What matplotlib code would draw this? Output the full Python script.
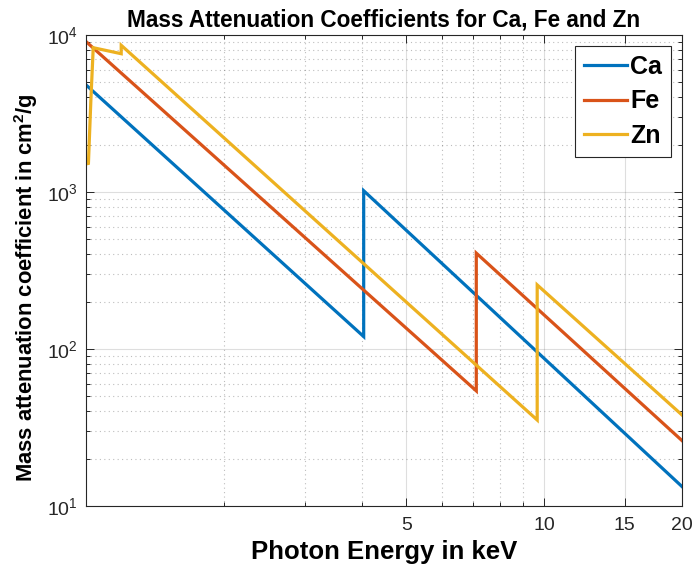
import matplotlib
matplotlib.use("Agg")
import matplotlib.pyplot as plt
from matplotlib.ticker import FixedLocator, LogLocator, NullFormatter, FixedFormatter

plt.rcParams['font.family'] = ['Liberation Sans', 'DejaVu Sans']
plt.rcParams['mathtext.fontset'] = 'custom'
plt.rcParams['mathtext.rm'] = 'Liberation Sans'
plt.rcParams['mathtext.bf'] = 'Liberation Sans:bold'

# Data (energy in keV, mass attenuation in cm^2/g)
ca_energy = [1.0, 4.038, 4.038, 20.0]
ca_mu = [4810, 120, 1019, 13.3]

fe_energy = [1.0, 7.112, 7.112, 20.0]
fe_mu = [9085, 54.1, 408, 26.1]

zn_energy = [1.0, 1.012, 1.025, 1.037, 1.1936, 1.1936, 9.659, 9.659, 20.0]
zn_mu = [1590, 1495, 3900, 8300, 7600, 8600, 35.3, 256, 38.0]

series_names = ["Ca", "Fe", "Zn"]
xtick_values = [5, 10, 15, 20]
xtick_labels = ["5", "10", "15", "20"]

colors = ["#0072BD", "#D95319", "#EDB120"]
axcol = "#262626"

fig = plt.figure(figsize=(6.94, 5.67), dpi=100)
ax = fig.add_axes([86/694, 1-506/567, (682-86)/694, (506-35)/567])

for e, m, c, n in zip([ca_energy, fe_energy, zn_energy], [ca_mu, fe_mu, zn_mu], colors, series_names):
    ax.plot(e, m, color=c, lw=2.3, label=n, solid_joinstyle='miter')

ax.set_xscale('log')
ax.set_yscale('log')
ax.set_xlim(1, 20)
ax.set_ylim(10, 1e4)

ax.xaxis.set_major_locator(FixedLocator(xtick_values))
ax.xaxis.set_major_formatter(FixedFormatter(xtick_labels))
ax.xaxis.set_minor_locator(FixedLocator([2, 3, 4, 6, 7, 8, 9]))
ax.xaxis.set_minor_formatter(NullFormatter())
ax.yaxis.set_major_locator(LogLocator(base=10, numticks=10))
ax.yaxis.set_minor_locator(LogLocator(base=10, subs=range(2, 10), numticks=20))
ax.yaxis.set_minor_formatter(NullFormatter())

ax.grid(True, which='major', color=axcol, alpha=0.15, lw=0.8, ls='-')
ax.grid(True, which='minor', color=axcol, alpha=0.3, lw=0.8, ls=(0, (1, 3)))
ax.set_axisbelow(True)

ax.tick_params(which='both', direction='in', top=True, right=True, colors=axcol,
               labelsize=14, width=0.7)
ax.tick_params(which='major', length=6)
ax.tick_params(which='minor', length=3)
ax.tick_params(axis='x', which='major', pad=8)
ax.tick_params(axis='y', which='major', pad=6)
for s in ax.spines.values():
    s.set_color(axcol)
    s.set_linewidth(0.8)

ax.set_title("Mass Attenuation Coefficients for Ca, Fe and Zn", fontsize=16.3, fontweight='bold', pad=6)
ax.set_xlabel("Photon Energy in keV", fontsize=18.5, fontweight='bold', labelpad=4)
ax.set_ylabel(r"Mass attenuation coefficient in cm$^\mathbf{2}$/g", fontsize=15.8, fontweight='bold')
ax.yaxis.set_label_coords(-46 / 596, 0.464)

leg = ax.legend(loc='upper right',
                bbox_to_anchor=((671 - 86) / (682 - 86), (506 - 46) / (506 - 35)),
                prop={'size': 18, 'weight': 'bold'}, fancybox=False, framealpha=1,
                edgecolor=axcol, handlelength=1.7, borderaxespad=0, labelspacing=0.42,
                handletextpad=0.15, borderpad=0.35, handleheight=0.7)
leg.get_frame().set_linewidth(0.8)

fig.savefig("out.png", dpi=100)
